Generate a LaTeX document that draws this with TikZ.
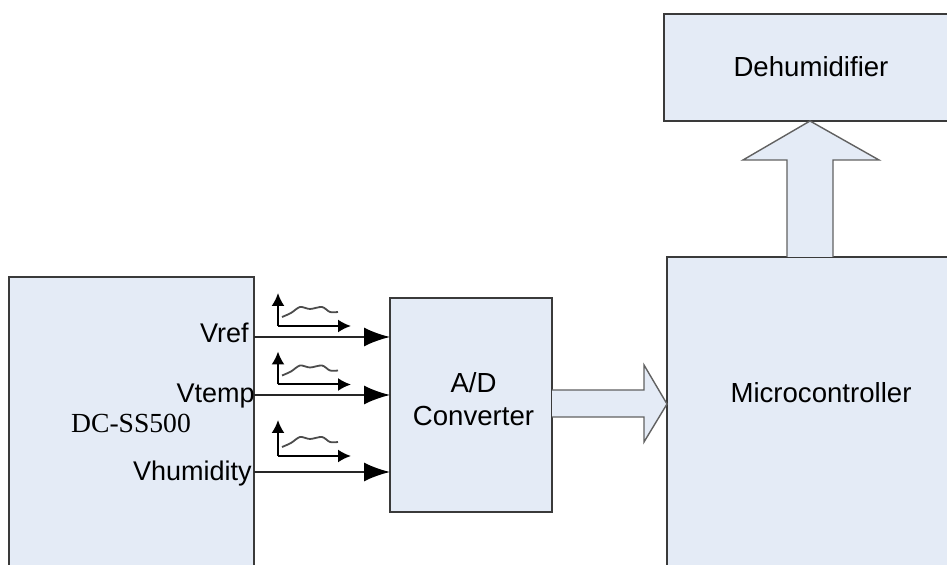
\documentclass[tikz,border=0pt]{standalone}
\usepackage{fontspec}
\setmainfont{Liberation Sans}
\newfontfamily\serifname{Liberation Serif}
\usetikzlibrary{arrows.meta}
\definecolor{boxblue}{HTML}{E4EBF6}
\definecolor{boxline}{HTML}{3A3A3A}
\tikzstyle{block}=[rectangle, inner sep=0pt, outer sep=0pt, draw=boxline, fill=boxblue, line width=1pt, anchor=north west]
\tikzstyle{tag}=[inner sep=0pt, align=center, font=\fontsize{13.8}{16.5}\selectfont]
\tikzstyle{pinname}=[inner sep=0pt, anchor=base east, font=\fontsize{13.5}{16}\selectfont]
\tikzstyle{bigarrow}=[draw=boxline!80, fill=boxblue, line width=0.7pt, line join=miter]
\tikzstyle{signal}=[draw=black!85, line width=1pt, -{Latex[length=13pt,width=9.5pt,color=black]}]
\tikzstyle{axis}=[black, line width=1pt, -{Latex[length=6.5pt,width=6.5pt]}]
\tikzstyle{wave}=[black!70, line width=0.9pt]
\tikzset{>=latex}

\begin{document}
\begin{tikzpicture}[x=0.5pt, y=-0.5pt]
\useasboundingbox (0,0) rectangle (947,565);
\clip (0,0) rectangle (947,565);

\node[block, minimum width=122.5pt, minimum height=170pt] (sensor) at (9,277) {};
\node[block, minimum width=81pt, minimum height=107pt] (adc) at (390,298) {};
\node[block, minimum width=170pt, minimum height=170pt] (micro) at (667,257) {};
\node[block, minimum width=170pt, minimum height=53.5pt] (dehum) at (664,14) {};

\node[tag] (sensorname) at (131,423) {\serifname DC-SS500};
\node[tag] (adcname) at (473.5,399) {A/D\\Converter};
\node[tag] (microname) at (821,393) {Microcontroller};
\node[tag] (dehumname) at (811,67) {Dehumidifier};

\node[pinname] (vref) at (249,343) {Vref};
\node[pinname] (vtemp) at (255,403) {Vtemp};
\node[pinname] (vhum) at (252,481) {Vhumidity};

\coordinate (vrefout) at (254,337);
\coordinate (vtempout) at (254,395);
\coordinate (vhumout) at (254,472);

\draw[signal] (vrefout) -- (vrefout -| adc.west);
\draw[signal] (vtempout) -- (vtempout -| adc.west);
\draw[signal] (vhumout) -- (vhumout -| adc.west);

% little sketches of the sampled signals
\foreach \y/\top in {326/33, 384.5/33, 456/36}
{
	\draw[axis] (278,\y) -- (278,\y-\top);
	\draw[axis] (278,\y) -- (351,\y);
	\draw[wave] plot[smooth] coordinates {(282,\y-9) (291,\y-13) (300,\y-19) (310,\y-17) (322,\y-19) (330,\y-14) (338,\y-14)};
}

\draw[bigarrow] (adc.east |- 0,390) -- (644,390) -- (644,365) -- (micro.west |- 0,404) -- (644,442) -- (644,417) -- (adc.east |- 0,417);
\draw[bigarrow] (787,0 |- micro.north) -- (787,160) -- (743,160) -- (810,0 |- dehum.south) -- (879,160) -- (833,160) -- (833,0 |- micro.north);

\end{tikzpicture}
\end{document}
